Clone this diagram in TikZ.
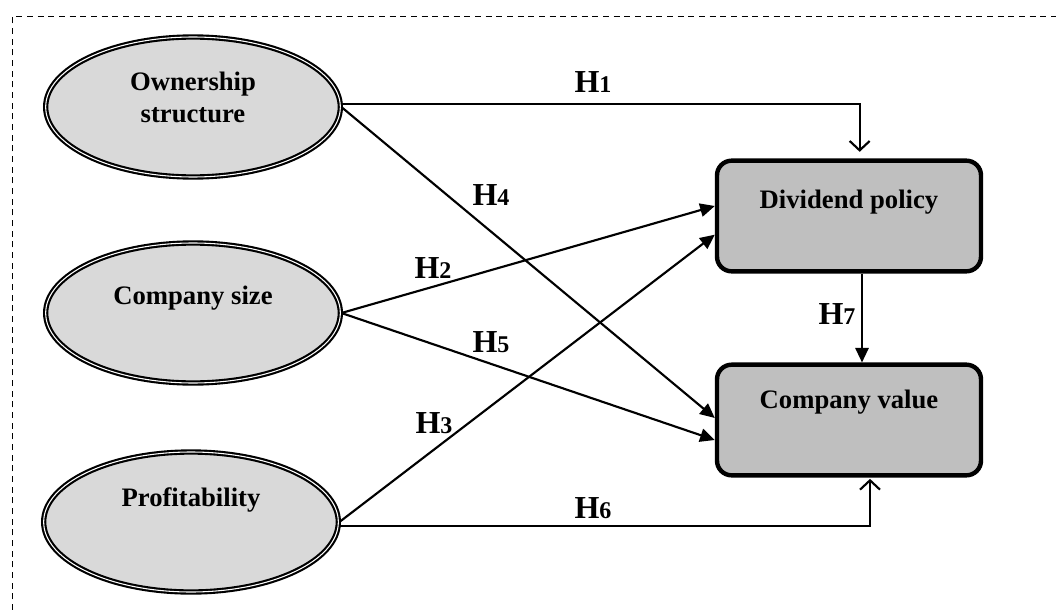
\documentclass[tikz,border=0pt]{standalone}
\usepackage{fontspec}
\setmainfont{Liberation Serif}
\usetikzlibrary{shapes,arrows.meta}

\newcommand{\hname}[1]{H{\fontsize{18}{20}\selectfont #1}}

\tikzset{
  latent/.style={ellipse, draw, double, double distance=0.8pt, line width=1.6pt,
    fill=black!15, minimum width=221pt, minimum height=105pt, inner sep=0pt},
  construct/.style={rectangle, rounded corners=11pt, draw, line width=3.3pt,
    fill=black!25, minimum width=198pt, minimum height=83pt},
  hyp/.style={line width=1.6pt, -{Triangle[length=11pt,width=10pt]}},
  hypopen/.style={line width=1.6pt, -{Straight Barb[length=7pt,width=15pt]}},
  hlabel/.style={anchor=base, font=\fontsize{24}{28}\selectfont\bfseries},
  every label/.style={align=center, font=\fontsize{20}{24}\selectfont\bfseries}
}

\begin{document}
\begin{tikzpicture}[x=0.75pt, y=-0.75pt]
    \useasboundingbox (0,0) rectangle (1056,610);

    % Frame
    \draw[line width=0.75pt, dash pattern=on 4.5pt off 3.5pt] (12,610) -- (12,17) -- (1056,17);

    % Independent variables
    \node[latent, label={[yshift=7.5pt]center:Ownership\\structure}] (own) at (193,107) {};
    \node[latent, label={[yshift=11pt]center:Company size}] (size) at (193,313) {};
    \node[latent, label={[yshift=16.5pt]center:Profitability}] (prof) at (191,522) {};

    % Dependent variables
    \node[construct, label={[yshift=10.5pt]center:Dividend policy}] (div) at (849,216) {};
    \node[construct, label={[yshift=13.5pt]center:Company value}] (cv) at (849,420) {};

    % Hypotheses
    \draw[hypopen] ([yshift=2pt]own.east) -| ([xshift=8pt, yshift=5pt]div.north);
    \draw[hyp] (own.east) -- ([yshift=1.5pt]cv.west);
    \draw[hyp] (size.east) -- ([yshift=7.5pt]div.west);
    \draw[hyp] (size.east) -- ([yshift=-15pt]cv.west);
    \draw[hyp] (prof.east) -- ([yshift=-14pt]div.west);
    \draw[hypopen] ([yshift=-3pt]prof.east) -| ([xshift=15.75pt, yshift=-1pt]cv.south);
    \draw[hyp] ([xshift=9.75pt]div.south) -- ([xshift=9.75pt]cv.north);

    % Labels
    \node[hlabel] (h1) at (593,93) {\hname{1}};
    \node[hlabel] (h4) at (491,205) {\hname{4}};
    \node[hlabel] (h2) at (433,278) {\hname{2}};
    \node[hlabel] (h5) at (491,352) {\hname{5}};
    \node[hlabel] (h3) at (434,433) {\hname{3}};
    \node[hlabel] (h6) at (593,518) {\hname{6}};
    \node[hlabel] (h7) at (837,324) {\hname{7}};
\end{tikzpicture}
\end{document}
